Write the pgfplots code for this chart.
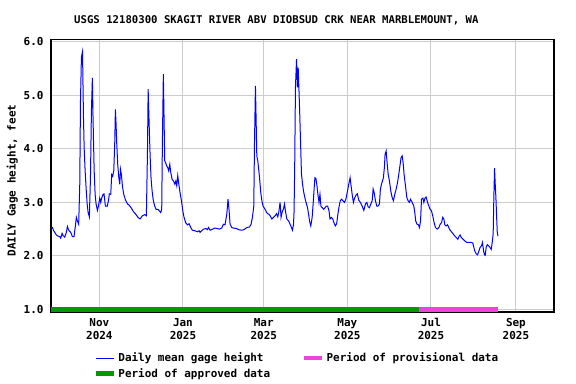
\documentclass[border=0pt]{standalone}
\usepackage{fontspec}
\setmonofont{DejaVu Sans Mono}
\usepackage{pgfplots}
\pgfplotsset{compat=1.18}
\definecolor{gridgray}{RGB}{204,204,204}
\definecolor{usgsgreen}{RGB}{0,153,0}
\definecolor{usgspink}{RGB}{238,68,221}
\newcommand\ff{\fontsize{11}{13}\selectfont\ttfamily\bfseries}
\begin{document}
\begin{tikzpicture}
\useasboundingbox (0,0) rectangle (576bp,384bp);
\begin{axis}[
  at={(51bp,72bp)}, anchor=south west,
  scale only axis, width=503bp, height=272.7bp,
  xmin=-35.3, xmax=331.8, ymin=0.95, ymax=6.05,
  xtick={0,61,120,181,242,304},
  xticklabels={Nov\\2024,Jan\\2025,Mar\\2025,May\\2025,Jul\\2025,Sep\\2025},
  ytick={1,2,3,4,5,6},
  major tick length=0pt,
  grid=major,
  major grid style={gridgray, line width=1bp},
  axis line style={black, line width=1.3bp},
  tick label style={font=\ff},
  xticklabel style={align=center, yshift=-3bp},
  yticklabel style={xshift=-4bp},
  /pgf/number format/.cd, fixed, fixed zerofill, precision=1, assume math mode=true,
  /pgfplots/.cd,
  title={USGS 12180300 SKAGIT RIVER ABV DIOBSUD CRK NEAR MARBLEMOUNT, WA},
  title style={font=\fontsize{10.7}{12}\selectfont\ttfamily\bfseries, at={(0.448,1)}, anchor=center, yshift=13bp},
  ylabel={DAILY Gage height, feet},
  ylabel style={font=\ff, at={(axis description cs:-0.077,0.482)}, anchor=center},
  legend columns=2,
  legend cell align=left,
  legend style={at={(axis description cs:0.079,-0.135)}, anchor=north west, draw=none, fill=none, font=\ff,
    /tikz/every even column/.append style={column sep=30bp}, row sep=1bp},
  legend image code/.code={\draw[#1] (0bp,0bp) -- (18bp,0bp);},
]
\addplot[blue, line width=1bp] coordinates {
(-34.5,2.54) (-33.3,2.47) (-31.4,2.39) (-30.1,2.37) (-28.9,2.36) (-28.2,2.33) (-27.2,2.42) (-26.5,2.38)
(-25.3,2.35) (-24.1,2.44) (-23.3,2.55) (-22.4,2.48) (-20.9,2.44) (-19.7,2.36) (-18.5,2.36) (-17.5,2.56)
(-16.8,2.72) (-16.0,2.65) (-15.1,2.59) (-14.3,3.34) (-13.8,4.87) (-13.1,5.72) (-12.3,5.82) (-11.6,4.59)
(-11.1,4.02) (-10.4,3.59) (-9.7,3.28) (-8.9,2.97) (-8.2,2.81) (-7.3,2.73) (-6.5,3.46) (-5.8,4.71)
(-5.1,5.33) (-4.6,4.55) (-3.8,3.59) (-3.1,3.15) (-2.4,2.97) (-1.4,2.85) (-0.7,2.93) (0.3,3.08)
(1.0,3.00) (1.7,3.08) (2.7,3.15) (3.4,3.16) (4.4,2.93) (5.8,2.93) (6.6,3.03) (7.3,3.16) (8.3,3.15)
(9.0,3.52) (9.7,3.49) (10.5,3.59) (11.2,4.09) (11.7,4.74) (12.2,4.46) (12.7,4.09) (13.4,3.71)
(14.2,3.46) (14.9,3.34) (15.4,3.62) (16.1,3.52) (16.8,3.31) (17.8,3.15) (19.0,3.05) (20.5,2.97)
(21.7,2.95) (23.4,2.89) (24.8,2.83) (26.5,2.78) (28.2,2.72) (29.7,2.69) (31.4,2.75) (33.1,2.77)
(34.3,2.75) (35.1,3.93) (35.6,5.12) (36.3,4.49) (37.0,3.90) (37.7,3.46) (38.5,3.21) (39.4,3.03)
(40.4,2.93) (41.4,2.87) (42.8,2.87) (43.8,2.84) (44.8,2.81) (45.5,2.87) (46.0,4.12) (46.7,5.40)
(47.2,4.59) (47.7,3.78) (48.5,3.73) (49.2,3.68) (49.9,3.65) (50.6,3.59) (51.4,3.71) (52.1,3.56)
(53.1,3.43) (54.1,3.40) (55.1,3.34) (55.8,3.40) (56.5,3.31) (57.2,3.50) (58.0,3.34) (58.9,3.18)
(59.9,3.03) (60.9,2.84) (61.8,2.72) (63.0,2.62) (64.3,2.58) (65.5,2.60) (66.7,2.53) (67.9,2.48)
(69.6,2.47) (71.6,2.45) (72.8,2.47) (73.5,2.44) (74.7,2.47) (75.9,2.50) (77.9,2.51) (78.9,2.49)
(79.6,2.53) (80.8,2.48) (82.7,2.50) (84.4,2.52) (86.2,2.51) (87.6,2.50) (89.3,2.52) (90.5,2.59)
(91.7,2.58) (93.0,2.78) (93.9,3.06) (94.7,2.84) (95.4,2.59) (96.6,2.53) (97.8,2.52) (100.3,2.51)
(101.5,2.49) (103.9,2.48) (105.6,2.49) (107.6,2.53) (109.5,2.54) (110.7,2.59) (111.7,2.72) (112.7,2.93)
(113.2,4.09) (113.9,5.18) (114.4,4.55) (114.9,3.87) (115.6,3.78) (116.4,3.59) (117.1,3.40) (117.8,3.18)
(118.6,3.03) (119.5,2.93) (120.5,2.89) (121.5,2.84) (122.7,2.79) (123.7,2.78) (124.6,2.75) (125.9,2.69)
(127.1,2.72) (128.3,2.75) (129.3,2.79) (130.2,2.73) (130.9,2.81) (131.9,3.00) (132.6,2.72) (133.6,2.84)
(134.3,2.87) (135.1,2.97) (135.8,2.84) (136.8,2.69) (138.2,2.65) (139.2,2.59) (140.2,2.53) (140.9,2.48)
(141.7,2.59) (142.1,2.84) (142.6,3.78) (143.1,5.15) (143.9,5.68) (144.6,5.15) (145.1,5.52) (145.6,5.15)
(146.1,4.77) (146.8,4.15) (147.5,3.53) (148.3,3.34) (149.0,3.21) (149.7,3.12) (150.5,3.03) (151.2,2.97)
(151.9,2.90) (152.7,2.78) (153.4,2.65) (154.3,2.56) (155.3,2.72) (156.0,2.97) (156.8,3.28) (157.3,3.46)
(158.0,3.45) (158.8,3.31) (159.5,3.15) (160.3,3.00) (161.0,3.15) (161.7,2.93) (162.7,2.90) (163.7,2.87)
(164.7,2.90) (165.6,2.93) (166.6,2.93) (167.6,2.84) (168.3,2.69) (169.3,2.72) (170.3,2.69) (171.2,2.62)
(172.2,2.56) (173.2,2.60) (173.9,2.75) (174.8,2.90) (175.8,3.03) (176.8,3.06) (177.7,3.03) (178.9,3.00)
(179.9,3.06) (181.1,3.21) (182.0,3.34) (183.0,3.46) (183.7,3.31) (184.5,3.15) (185.4,3.00) (186.4,3.09)
(187.4,3.14) (188.3,3.16) (189.3,3.04) (190.5,3.00) (191.8,2.93) (193.0,2.85) (194.2,2.97) (195.2,3.00)
(196.1,2.92) (197.1,2.90) (198.1,2.97) (199.1,3.03) (199.8,3.25) (200.5,3.19) (201.5,3.03) (202.5,2.93)
(203.4,2.93) (204.4,2.97) (205.1,3.25) (205.9,3.34) (206.6,3.40) (207.3,3.46) (208.1,3.68) (208.5,3.90)
(209.3,3.96) (210.0,3.74) (210.8,3.52) (211.7,3.40) (212.7,3.21) (213.7,3.09) (214.6,3.03) (215.6,3.15)
(216.6,3.25) (217.6,3.37) (218.5,3.52) (219.5,3.71) (220.2,3.84) (221.0,3.87) (221.7,3.74) (222.4,3.52)
(223.4,3.31) (224.4,3.09) (225.3,3.03) (226.3,3.00) (227.0,3.06) (228.3,3.00) (229.5,2.93) (230.2,2.81)
(230.9,2.65) (231.9,2.59) (232.9,2.58) (233.6,2.53) (234.4,2.65) (235.1,3.06) (236.1,3.08) (236.8,3.00)
(237.6,3.08) (238.5,3.10) (239.5,3.00) (240.5,2.93) (241.2,2.88) (242.4,2.84) (243.3,2.75) (244.3,2.62)
(245.3,2.53) (246.5,2.50) (247.8,2.53) (248.7,2.59) (249.7,2.62) (250.6,2.72) (251.4,2.69) (252.1,2.58)
(253.1,2.56) (254.1,2.58) (255.0,2.53) (256.0,2.48) (257.0,2.45) (258.2,2.41) (259.4,2.37) (260.6,2.34)
(261.6,2.31) (262.6,2.37) (263.3,2.39) (264.3,2.34) (265.5,2.31) (266.7,2.28) (268.2,2.25) (269.6,2.25)
(271.6,2.25) (272.5,2.24) (273.3,2.16) (274.0,2.09) (275.0,2.04) (276.0,2.02) (277.0,2.09) (277.9,2.16)
(278.9,2.19) (279.6,2.25) (280.4,2.09) (281.1,2.02) (281.6,2.01) (282.3,2.16) (283.1,2.21) (284.0,2.19)
(285.0,2.16) (286.0,2.12) (286.7,2.25) (287.4,2.41) (287.9,3.09) (288.4,3.64) (288.9,3.34) (289.4,3.09)
(289.9,2.75) (290.4,2.44) (290.9,2.37)
};
\addlegendentry{Daily mean gage height}
\addplot[usgspink, line width=4.5bp] coordinates {(233.4,1) (291.0,1)};
\addlegendentry{Period of provisional data}
\addplot[usgsgreen, line width=4.5bp] coordinates {(-35.3,1) (233.4,1)};
\addlegendentry{Period of approved data}
\end{axis}
\end{tikzpicture}
\end{document}
